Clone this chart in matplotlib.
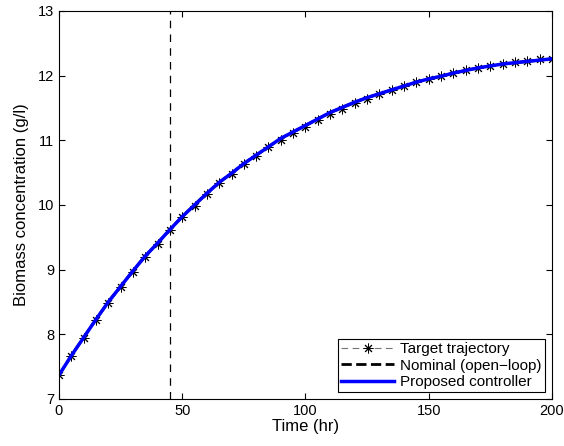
import matplotlib.pyplot as plt
import numpy as np

plt.rcParams['font.family'] = ['Liberation Sans', 'DejaVu Sans']

# time axis (hr), markers every 5 hr
time_hr = list(range(0, 205, 5))

target = [7.37, 7.66, 7.94, 8.22, 8.49, 8.73, 8.97, 9.20, 9.40, 9.61,
          9.82, 9.99, 10.17, 10.34, 10.48, 10.63, 10.76, 10.89, 11.01, 11.11,
          11.21, 11.31, 11.41, 11.49, 11.57, 11.64, 11.71, 11.78, 11.84, 11.90,
          11.95, 11.99, 12.04, 12.08, 12.12, 12.15, 12.18, 12.21, 12.23, 12.25,
          12.26]

proposed = [7.37, 7.67, 7.95, 8.23, 8.50, 8.74, 8.98, 9.21, 9.41, 9.62,
            9.82, 10.00, 10.18, 10.35, 10.49, 10.64, 10.77, 10.90, 11.03, 11.13,
            11.23, 11.33, 11.43, 11.51, 11.59, 11.66, 11.72, 11.78, 11.84, 11.90,
            11.95, 11.99, 12.04, 12.08, 12.12, 12.15, 12.18, 12.20, 12.22, 12.24,
            12.26]

nominal = proposed
switch_time = 45

fig = plt.figure(figsize=(5.64, 4.46), dpi=100)
ax = fig.add_axes([0.1046, 0.1054, 0.874, 0.870])

ax.axvline(switch_time, color='black', linestyle=(0, (6, 5)), linewidth=0.9)
ax.plot(time_hr, target, color='0.45', linestyle=(0, (6, 4)), linewidth=0.8,
        marker=(8, 2, 0), markersize=7, markeredgecolor='black',
        markeredgewidth=0.7, label='Target trajectory')
ax.plot(time_hr, nominal, color='black', linestyle='--', linewidth=2,
        label='Nominal (open\u2212loop)')
ax.plot(time_hr, proposed, color='#0000ff', linewidth=2.5, label='Proposed controller')

ax.set_xlim(0, 200)
ax.set_ylim(7, 13)
ax.set_xticks([0, 50, 100, 150, 200])
ax.set_yticks([7, 8, 9, 10, 11, 12, 13])
ax.tick_params(direction='in', length=4, labelsize=10.5, top=True, right=True)
ax.set_xlabel('Time (hr)', fontsize=12, labelpad=1)
ax.set_ylabel('Biomass concentration (g/l)', fontsize=12, labelpad=6)

leg = ax.legend(loc='lower right', fontsize=11, fancybox=False, shadow=False,
                framealpha=1, edgecolor='black', borderpad=0.2, labelspacing=0.15,
                handlelength=3.5, handletextpad=0.4, borderaxespad=0.45,
                numpoints=1)
leg.get_frame().set_linewidth(0.8)

fig.savefig('out.png', dpi=100)
